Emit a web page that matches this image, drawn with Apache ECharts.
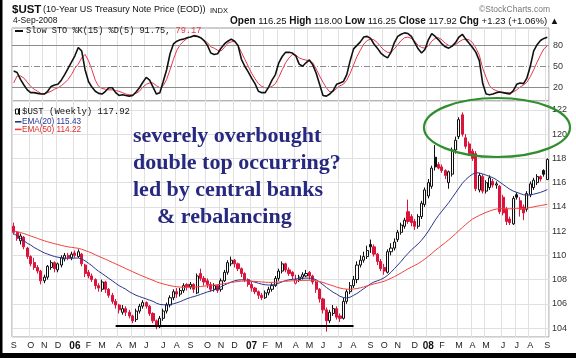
<!DOCTYPE html>
<html><head><meta charset="utf-8">
<script src="https://cdn.jsdelivr.net/npm/echarts/dist/echarts.min.js"></script>
<style>html,body{margin:0;padding:0;background:#fff}#c{width:576px;height:358px}</style>
</head><body><div id="c"></div>
<script>
// ---- weekly OHLC of $UST, Sep 2005 .. 4 Sep 2008 ----
const openP = [112.4,111.9,111.2,111.5,110.6,109.9,109.4,109.0,108.7,107.9,108.2,109.0,109.4,108.8,109.2,109.7,110.0,109.8,110.2,109.9,
110.1,109.2,108.6,108.3,108.0,107.5,107.2,107.8,107.2,106.7,106.2,105.9,105.3,105.6,105.3,105.0,104.7,105.4,105.8,106.1,
105.8,105.2,104.6,104.1,104.8,105.4,105.9,106.5,107.0,106.8,107.1,107.6,107.4,107.6,106.9,108.5,108.1,107.9,107.6,107.2,
107.5,107.2,107.9,108.6,109.3,109.6,109.3,108.9,108.5,108.0,107.6,107.3,107.0,106.7,106.5,106.9,107.2,107.5,108.1,108.7,
109.3,108.8,108.6,107.7,108.0,108.2,108.3,108.6,108.3,107.8,107.2,106.4,105.5,104.6,105.2,105.6,105.0,104.8,106.2,107.0,
107.5,108.0,109.2,109.6,109.9,110.9,110.7,110.1,109.5,109.0,108.6,110.3,110.6,111.3,111.9,112.4,113.6,113.2,112.8,112.4,
113.2,114.2,114.9,115.7,118.1,117.5,117.3,117.0,116.0,116.7,118.7,119.8,121.6,119.7,119.2,118.6,118.4,115.4,116.5,115.3,
115.6,116.1,115.8,115.7,114.8,113.8,113.0,112.6,115.0,114.5,114.0,113.8,115.0,115.6,116.0,116.5,117.0,116.25];
const highP = [112.7,112.0,111.8,111.6,110.7,110.0,109.8,109.2,108.8,108.4,109.2,109.6,109.5,109.4,110.0,110.2,110.2,110.3,110.4,110.5,
110.2,109.3,108.8,108.5,108.1,107.7,108.0,107.9,107.3,106.9,106.4,106.0,105.9,105.8,105.5,105.1,105.6,106.0,106.3,106.2,
105.9,105.3,104.7,105.0,105.6,106.1,106.7,107.2,107.3,107.3,107.7,107.7,107.8,107.7,108.5,108.9,108.3,108.1,107.8,107.7,
107.6,108.1,108.8,109.6,109.9,109.7,109.4,109.0,108.6,108.1,107.8,107.4,107.1,106.9,107.1,107.4,107.7,108.3,108.9,109.5,
109.4,109.0,108.7,108.4,108.4,108.6,108.8,108.7,108.4,107.9,107.3,106.5,105.7,105.5,105.9,105.8,105.2,106.5,107.2,107.8,
108.3,109.5,110.0,110.3,110.8,111.3,110.9,110.2,109.7,109.3,110.5,111.0,111.4,112.1,112.7,113.1,114.6,113.4,113.0,113.4,
114.5,115.6,116.3,117.4,119.1,117.7,117.5,117.1,117.0,118.9,119.8,121.4,121.8,120.0,119.4,118.8,118.6,116.8,116.7,116.2,
116.6,116.3,116.1,115.8,115.0,114.0,113.2,114.9,115.2,114.8,114.2,115.3,116.1,116.4,116.7,116.6,117.1,118.00];
const lowP = [111.7,111.2,110.9,110.5,109.7,109.1,108.8,108.5,107.6,107.7,108.0,108.8,108.6,108.6,109.0,109.5,109.6,109.6,109.8,109.8,
109.1,108.2,108.1,107.8,107.2,107.0,107.0,106.9,106.5,106.0,105.6,105.2,105.1,105.0,104.8,104.4,104.5,105.2,105.6,105.6,
105.0,104.4,103.9,104.0,104.6,105.2,105.7,106.3,106.5,106.6,106.9,107.1,107.2,106.9,106.8,107.9,107.5,107.3,107.0,107.0,
106.9,107.0,107.8,108.4,109.1,109.0,108.7,108.2,107.8,107.4,107.0,106.8,106.4,106.3,106.4,106.7,107.0,107.4,107.9,108.5,
108.6,108.3,108.0,107.6,107.8,108.0,108.2,108.0,107.6,106.9,106.1,105.2,103.7,104.4,105.0,104.7,104.5,104.7,106.0,106.8,
107.3,107.7,109.0,109.4,109.7,110.2,109.9,109.2,108.7,108.4,108.5,110.0,110.4,111.1,111.7,112.2,112.6,112.4,112.1,112.2,
113.0,114.0,114.7,115.5,117.0,117.1,116.8,116.3,115.5,116.5,118.4,119.6,119.8,118.8,118.2,117.8,115.3,115.2,115.1,115.1,
115.4,115.6,115.5,113.4,113.3,112.5,112.5,112.5,114.6,113.2,112.9,113.6,114.8,115.4,115.8,116.1,116.5,116.25];
const closeP = [111.9,111.4,111.6,110.7,109.9,109.3,109.0,108.7,107.9,108.2,109.1,109.4,108.9,109.3,109.8,110.0,109.8,110.1,110.0,110.3,
109.3,108.5,108.3,108.0,107.5,107.3,107.8,107.2,106.7,106.2,105.9,105.5,105.6,105.3,105.0,104.6,105.4,105.8,106.1,105.8,
105.2,104.6,104.1,104.8,105.4,105.9,106.5,107.0,106.8,107.1,107.5,107.4,107.6,107.2,108.3,108.1,107.8,107.6,107.2,107.5,
107.1,107.9,108.6,109.4,109.6,109.3,108.9,108.5,108.0,107.6,107.3,107.0,106.7,106.5,106.9,107.2,107.5,108.1,108.7,109.3,
108.8,108.5,108.3,108.0,108.2,108.4,108.5,108.3,107.8,107.2,106.4,105.5,104.6,105.3,105.6,104.9,104.8,106.2,107.0,107.5,
108.0,109.2,109.6,109.9,110.4,110.7,110.1,109.5,108.9,108.7,110.3,110.6,111.1,111.9,112.5,112.9,112.8,112.7,112.4,113.2,
114.3,115.4,116.0,117.2,117.3,117.2,117.0,116.6,116.9,118.7,119.5,121.2,120.0,119.0,118.4,118.0,115.5,116.6,115.3,116.0,
116.4,115.8,115.9,113.6,113.5,112.8,112.7,114.7,114.8,113.8,113.5,115.1,115.9,116.2,116.5,116.3,116.69,117.92];
const ema20 = [111.8,111.6,111.4,111.2,111.0,110.85,110.65,110.5,110.35,110.2,110.1,110.0,109.9,109.85,109.8,109.78,109.76,109.76,109.77,109.78,
109.7,109.55,109.35,109.15,108.9,108.68,108.5,108.3,108.1,107.9,107.7,107.5,107.35,107.2,107.0,106.85,106.7,106.6,106.5,106.4,
106.3,106.2,106.05,105.95,105.92,105.93,105.95,106.0,106.08,106.18,106.3,106.42,106.52,106.6,106.68,106.78,106.88,106.98,107.06,107.15,
107.25,107.4,107.55,107.68,107.8,107.9,107.96,107.98,107.97,107.93,107.86,107.78,107.7,107.62,107.57,107.55,107.56,107.6,107.7,107.82,
107.92,107.98,108.02,108.05,108.08,108.1,108.12,108.12,108.1,107.98,107.8,107.58,107.35,107.15,106.95,106.8,106.62,106.52,106.48,106.55,
106.7,106.85,107.05,107.25,107.45,107.65,107.8,107.9,108.0,108.15,108.35,108.6,108.9,109.2,109.5,109.85,110.15,110.45,110.7,110.95,
111.25,111.6,112.0,112.45,112.9,113.3,113.65,114.0,114.35,114.75,115.15,115.55,115.95,116.25,116.5,116.7,116.82,116.8,116.72,116.62,
116.52,116.4,116.25,116.05,115.85,115.65,115.45,115.3,115.2,115.1,115.0,114.98,114.98,115.05,115.12,115.2,115.3,115.43];
const ema50 = [112.0,111.95,111.88,111.8,111.7,111.6,111.5,111.4,111.3,111.2,111.12,111.04,110.96,110.9,110.82,110.76,110.7,110.66,110.62,110.58,
110.5,110.4,110.3,110.18,110.05,109.92,109.8,109.68,109.55,109.42,109.3,109.17,109.04,108.9,108.78,108.65,108.52,108.4,108.28,108.16,
108.05,107.94,107.82,107.72,107.64,107.57,107.5,107.45,107.41,107.38,107.36,107.36,107.37,107.38,107.4,107.43,107.46,107.49,107.52,107.55,
107.58,107.62,107.66,107.71,107.76,107.8,107.84,107.87,107.88,107.88,107.87,107.85,107.83,107.8,107.78,107.77,107.77,107.78,107.8,107.83,
107.86,107.88,107.9,107.91,107.92,107.93,107.94,107.94,107.93,107.9,107.84,107.76,107.66,107.57,107.48,107.38,107.3,107.24,107.21,107.2,
107.22,107.26,107.32,107.4,107.48,107.56,107.64,107.71,107.78,107.86,107.98,108.1,108.24,108.39,108.55,108.72,108.88,109.03,109.17,109.32,
109.5,109.7,109.92,110.15,110.4,110.62,110.84,111.05,111.28,111.52,111.78,112.05,112.3,112.55,112.78,113.0,113.15,113.3,113.42,113.55,
113.65,113.75,113.82,113.85,113.86,113.85,113.84,113.86,113.88,113.88,113.87,113.9,113.95,114.0,114.06,114.11,114.16,114.22];
const stoK = [43,41,31,23,16,12,12,11,10,10,14,21,23,24,30,38,47,56,65,77,
72,45,28,20,14,11,10,14,19,19,12,8,9,8,7,8,13,19,27,34,
30,20,10,12,28,45,68,82,86,88,89,91,92,94,93,91,87,80,69,67,
68,76,82,86,89,86,80,60,50,42,33,25,14,12,12,20,30,38,55,64,
70,70,69,65,53,50,55,59,52,40,24,8,7,10,15,24,26,28,38,58,
75,80,85,92,93,90,82,76,69,65,62,70,84,93,96,98,97,93,84,75,
69,74,88,97,93,88,82,78,76,79,84,92,96,89,83,77,70,58,25,10,
9,10,12,13,12,11,10,15,24,26,25,33,50,72,81,87,90,91.75];
const stoD = [26,36,36,33,27,21,17,14,11,10,12,14,17,19,22,26,31,38,47,53,
62,67,58,45,30,21,18,17,16,16,15,14,12,10,9,9,11,14,20,24,
26,26,22,19,22,31,45,60,73,81,86,90,92,93,93,91,87,84,78,76,
73,72,77,83,85,86,80,70,60,50,40,32,25,21,19,19,21,25,34,45,
55,62,67,66,62,60,59,57,55,46,36,27,19,13,14,18,22,24,30,40,
52,64,73,82,87,89,88,84,78,73,70,70,75,81,87,91,92,90,86,80,
77,76,79,86,90,91,88,83,80,79,81,85,88,89,88,84,76,66,47,34,
22,17,15,13,12,12,12,13,16,20,23,27,35,45,56,66,75,79.17];
const stoLevels = [20, 50, 80];
const supportLevel = 104.16;
const supportFrom = 30, supportTo = 100;

// ---- weekly categories ----
const dates = [];
{ let t = Date.UTC(2005, 8, 2);
  for (let k = 0; k < 157; k++) { dates.push(new Date(t).toISOString().slice(0,10)); t += 7*86400000; }
  dates.push('2008-09-04'); }
const monthStart = dates.map((d,i) => i === 0 || d.slice(5,7) !== dates[i-1].slice(5,7));
const MON = 'JFMAMJJASOND';

const RED = '#dc143c';
const candles = openP.map((o,i) => {
  const c = closeP[i], prev = i > 0 ? closeP[i-1] : o;
  const col = c >= prev ? '#111' : RED;
  const fill = c >= o ? '#fff' : col;
  return { value:[o, c, lowP[i], highP[i]],
    itemStyle:{ color:fill, color0:fill, borderColor:col, borderColor0:col, borderWidth:1 } };
});

const grid = '#e0e0e0';
const chart = echarts.init(document.getElementById('c'), null, {renderer:'canvas'});
chart.setOption({
  animation:false,
  grid:[
    {left:12, top:28, width:537, height:73, show:true, borderColor:'#9a9a9a', borderWidth:1},
    {left:12, top:101, width:537, height:236, show:true, borderColor:'#9a9a9a', borderWidth:1}
  ],
  xAxis:[
    {type:'category', gridIndex:0, data:dates, boundaryGap:true,
     axisLine:{show:false}, axisTick:{show:false}, axisLabel:{show:false},
     splitLine:{show:true, interval:(i)=>monthStart[i], lineStyle:{color:grid, width:1}}},
    {type:'category', gridIndex:1, data:dates, boundaryGap:true,
     axisLine:{show:false}, axisTick:{show:false},
     axisLabel:{show:true, interval:(i)=>monthStart[i], hideOverlap:false, margin:4,
       fontFamily:'Liberation Sans', fontSize:9, color:'#222',
       formatter:(v)=>{ const m = +v.slice(5,7); return m === 1 ? '{y|' + v.slice(2,4) + '}' : MON[m-1]; },
       rich:{y:{fontFamily:'Liberation Sans', fontWeight:'bold', fontSize:10, color:'#111'}}},
     splitLine:{show:true, interval:(i)=>monthStart[i], lineStyle:{color:grid, width:1}}}
  ],
  yAxis:[
    {type:'value', gridIndex:0, min:0, max:105, position:'right',
     axisLine:{show:false}, axisTick:{show:false}, axisLabel:{show:false}, splitLine:{show:false}},
    {type:'value', gridIndex:1, min:103.26, max:122.74, splitNumber:10, position:'right', scale:true,
     axisLine:{show:false}, axisTick:{show:false},
     axisLabel:{margin:3, fontFamily:'Liberation Sans', fontSize:9, color:'#333',
       showMinLabel:false, showMaxLabel:false,
       formatter:(v)=> Math.abs(v - Math.round(v)) < 1e-6 && Math.round(v) % 2 === 0 ? String(Math.round(v)) : ''},
     splitLine:{lineStyle:{color:grid, width:1}}}
  ],
  series:[
    {type:'line', name:'%K', xAxisIndex:0, yAxisIndex:0, data:stoK, symbol:'none', z:5,
     lineStyle:{color:'#111', width:1.6},
     markLine:{silent:true, symbol:'none', animation:false,
       lineStyle:{color:'#8c8c8c', width:1, type:'solid'},
       label:{show:true, position:'end', distance:4, formatter:(p)=>String(p.value),
              fontFamily:'Liberation Sans', fontSize:9, color:'#333'},
       data: stoLevels.map(v => v === 50 ? {yAxis:v, lineStyle:{type:[6,2,1,2], color:'#8c8c8c'}} : {yAxis:v})}},
    {type:'line', name:'%D', xAxisIndex:0, yAxisIndex:0, data:stoD, symbol:'none', z:4,
     lineStyle:{color:'#e8344a', width:1}},
    {type:'candlestick', name:'$UST', xAxisIndex:1, yAxisIndex:1, data:candles, barWidth:2.6, z:3,
     markLine:{silent:true, symbol:['none','none'], animation:false,
       lineStyle:{color:'#000', width:2, type:'solid'}, label:{show:false},
       data:[[{coord:[dates[supportFrom], supportLevel]}, {coord:[dates[supportTo], supportLevel]}]]}},
    {type:'line', name:'EMA(20)', xAxisIndex:1, yAxisIndex:1, data:ema20, symbol:'none', z:4,
     lineStyle:{color:'#27348f', width:1}},
    {type:'line', name:'EMA(50)', xAxisIndex:1, yAxisIndex:1, data:ema50, symbol:'none', z:4,
     lineStyle:{color:'#f0403c', width:1}}
  ],
  graphic:[
    {type:'rect', shape:{x:0, y:0, width:2.5, height:358}, style:{fill:'#000'}, z:200},
    {type:'rect', shape:{x:0, y:353, width:576, height:5}, style:{fill:'#000'}, z:200},
    {type:'text', z:100, style:{x:12, y:9.5, verticalAlign:'middle', text:'$UST', font:'bold 11.5px "Liberation Sans"', fill:'#111'}},
    {type:'text', z:100, style:{x:43, y:10, verticalAlign:'middle', text:'(10-Year US Treasury Note Price (EOD))', font:'9px "Liberation Sans"', fill:'#111'}},
    {type:'text', z:100, style:{x:210, y:10.5, verticalAlign:'middle', text:'INDX', font:'7.5px "Liberation Sans"', fill:'#111'}},
    {type:'text', z:100, style:{x:550, y:9.5, align:'right', verticalAlign:'middle', text:'©StockCharts.com', font:'8.5px "Liberation Sans"', fill:'#777'}},
    {type:'text', z:100, style:{x:13, y:21, verticalAlign:'middle', text:'4-Sep-2008', font:'8.5px "Liberation Sans"', fill:'#111'}},
    {type:'text', z:100, style:{x:230, y:21, verticalAlign:'middle',
      text:'{b|Open} 116.25 {b|High} 118.00 {b|Low} 116.25 {b|Close} 117.92 {b|Chg} +1.23 (+1.06%) ▲',
      font:'9.5px "Liberation Sans"', fill:'#111',
      rich:{b:{fontFamily:'Liberation Sans', fontWeight:'bold', fontSize:10, fill:'#111'}}}},
    {type:'rect', z:100, shape:{x:15, y:30, width:8, height:2}, style:{fill:'#111'}},
    {type:'text', z:100, style:{x:26, y:31.2, verticalAlign:'middle',
      text:'Slow STO %K(15) %D(5) 91.75, {r|79.17}', font:'8.6px "Liberation Mono"', fill:'#111',
      rich:{r:{fontFamily:'Liberation Mono', fontSize:8.6, fill:'#e8344a'}}}},
    {type:'rect', z:100, shape:{x:15.5, y:109, width:3, height:5}, style:{fill:'#fff', stroke:'#111', lineWidth:1}},
    {type:'rect', z:100, shape:{x:19, y:108, width:1, height:7}, style:{fill:'#111'}},
    {type:'text', z:100, style:{x:22, y:111.7, verticalAlign:'middle', text:'$UST (Weekly) 117.92', font:'9px "Liberation Mono"', fill:'#111'}},
    {type:'rect', z:100, shape:{x:15, y:121, width:6.5, height:1.6}, style:{fill:'#27348f'}},
    {type:'text', z:100, style:{x:22, y:121.8, verticalAlign:'middle', text:'EMA(20) 115.43', font:'8.2px "Liberation Sans"', fill:'#27348f'}},
    {type:'rect', z:100, shape:{x:15, y:128.6, width:6.5, height:1.6}, style:{fill:'#f0403c'}},
    {type:'text', z:100, style:{x:22, y:129.4, verticalAlign:'middle', text:'EMA(50) 114.22', font:'8.2px "Liberation Sans"', fill:'#e02a2a'}},
    {type:'text', z:110, style:{x:133, y:136.5, verticalAlign:'middle', text:'severely overbought', font:'bold 22px "Liberation Serif"', fill:'#27287f'}},
    {type:'text', z:110, style:{x:133, y:163.5, verticalAlign:'middle', text:'double top occurring?', font:'bold 22px "Liberation Serif"', fill:'#27287f'}},
    {type:'text', z:110, style:{x:133, y:190.5, verticalAlign:'middle', text:'led by central banks', font:'bold 22px "Liberation Serif"', fill:'#27287f'}},
    {type:'text', z:110, style:{x:157, y:217.5, verticalAlign:'middle', text:'& rebalancing', font:'bold 22px "Liberation Serif"', fill:'#27287f'}},
    {type:'ellipse', z:120, shape:{cx:497, cy:127.5, rx:73, ry:29.5}, style:{fill:'none', stroke:'#2f8f2f', lineWidth:2.2}}
  ]
});
</script>
</body></html>
